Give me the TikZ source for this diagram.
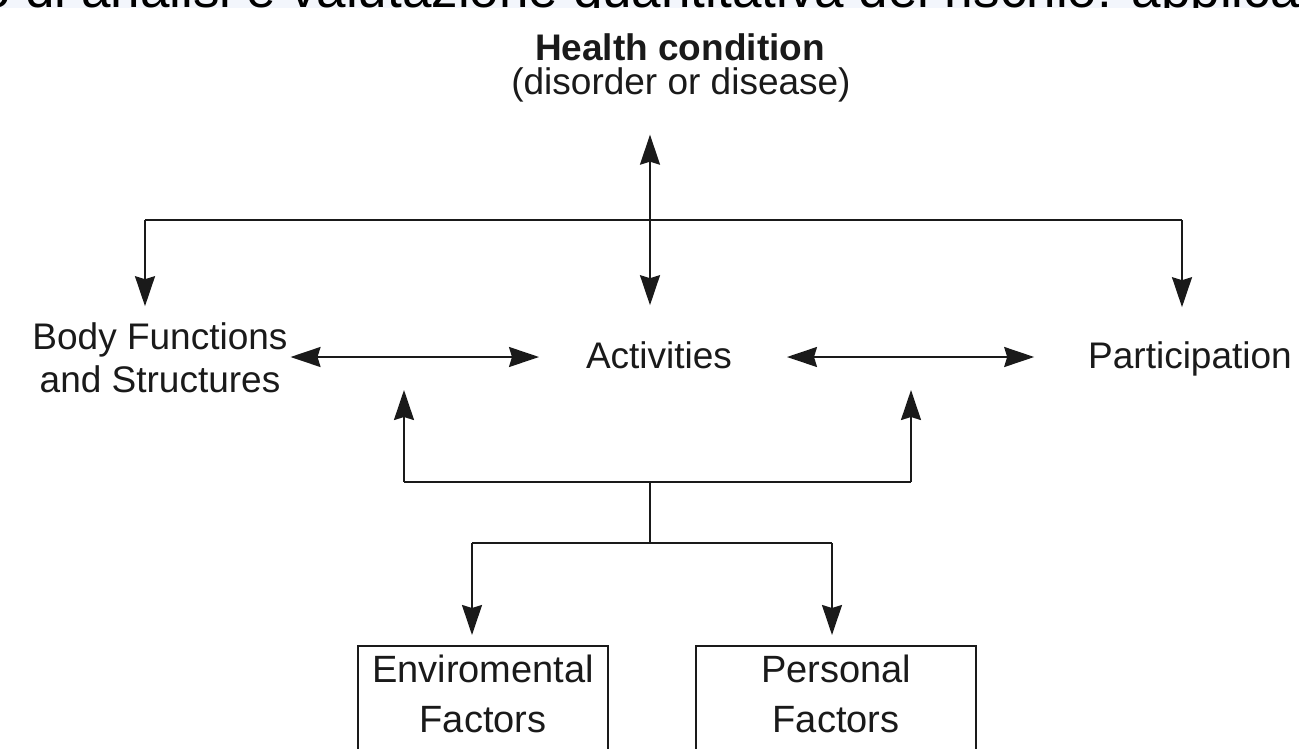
\documentclass[tikz,border=0pt]{standalone}
\usepackage{fontspec}
\setmainfont{Liberation Sans}
\usetikzlibrary{arrows.meta}
\definecolor{ink}{HTML}{1A1A1A}
\definecolor{banner}{HTML}{F3F6FC}
\begin{document}
\begin{tikzpicture}[x=1pt,y=-1pt,
  lbl/.style={inner sep=0pt, outer sep=0pt, text=ink, anchor=base,
              font=\fontsize{37}{42}\selectfont},
  wire/.style={draw=ink, line width=2pt},
  tip/.tip={Stealth[length=30pt,width=20pt,inset=3pt]},
  arr/.style={wire, -tip},
  dbl/.style={wire, tip-tip},
  factor/.style={draw=ink, line width=2pt, text=ink, align=center,
                 font=\fontsize{38}{50}\selectfont, inner xsep=0pt,
                 inner ysep=9pt, text depth=110pt, anchor=north}]
\useasboundingbox (0,0) rectangle (1299,748);
\clip (0,0) rectangle (1299,748);
\fill[white] (0,0) rectangle (1299,748);

% running heading strip, cut at its baseline by the page edge and the figure
\begin{scope}
  \clip (0,0) rectangle (1299,7.5);
  \fill[banner] (0,0) rectangle (1299,7.5);
  \node[lbl, anchor=base west, text=black, font=\fontsize{53}{60}\selectfont]
    (heading) at (-19,7.5) {o di analisi e valutazione quantitativa del rischio: applica};
\end{scope}

% labels
\node[lbl, font=\bfseries\fontsize{37}{42}\selectfont] (hc) at (680,60) {Health condition};
\node[lbl] (hcsub) at (681,94) {(disorder or disease)};
\node[lbl] (bfa) at (160,349) {Body Functions};
\node[lbl] (bfb) at (160,392) {and Structures};
\node[lbl] (act) at (659,368) {Activities};
\node[lbl] (part) at (1190,368) {Participation};

% contextual factors
\node[factor, minimum width=250pt] (env) at (483,645) {Enviromental\\Factors};
\node[factor, minimum width=280pt] (pers) at (836,645) {Personal\\Factors};

% junction points
\coordinate (row) at (0,357);
\coordinate (topL) at (145,220);
\coordinate (topR) at (1182,220);
\coordinate (hub) at (650,220);
\coordinate (lowL) at (404,482);
\coordinate (lowR) at (911,482);
\coordinate (lowHub) at (650,482);
\coordinate (split) at (650,543);
\coordinate (spL) at (472,543);
\coordinate (spR) at (832,543);
\coordinate (upL) at (404,390);
\coordinate (upR) at (911,390);

% health condition branch
\draw[wire] (topL) -- (topR);
\draw[dbl, shorten <=33pt, shorten >=36pt] (hcsub.south -| hub) -- (act.north -| hub);
\draw[arr, shorten >=16pt] (topL) -- (topL |- bfa.north);
\draw[arr, shorten >=34pt] (topR) -- (topR |- part.north);

% links between the three components
\draw[dbl, shorten <=3pt, shorten >=47pt] (bfa.east |- row) -- (act.west |- row);
\draw[dbl, shorten <=55pt, shorten >=54pt] (act.east |- row) -- (part.west |- row);

% contextual factors branch
\draw[wire] (lowL) -- (lowR);
\draw[arr] (lowL) -- (upL);
\draw[arr] (lowR) -- (upR);
\draw[wire] (lowHub) -- (split);
\draw[wire] (spL) -- (spR);
\draw[arr, shorten >=10pt] (spL) -- (spL |- env.north);
\draw[arr, shorten >=10pt] (spR) -- (spR |- pers.north);
\end{tikzpicture}
\end{document}
